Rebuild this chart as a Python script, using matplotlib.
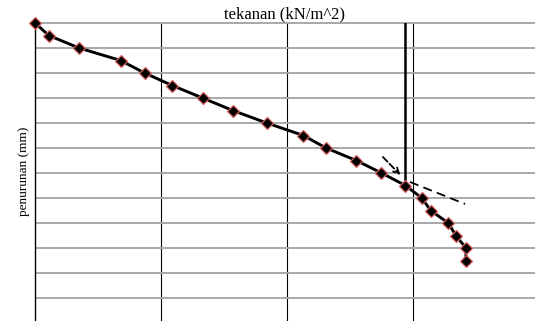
import matplotlib.pyplot as plt
import numpy as np

plt.rcParams['font.family'] = ['Liberation Serif', 'DejaVu Serif']

# tekanan (kN/m^2) and penurunan (mm)
tekanan = [0, 11, 35, 68, 87, 109, 133, 157, 184, 213, 231, 255, 275, 294,
           307, 314, 328, 334, 342, 342]
penurunan = [0, 0.5, 1.0, 1.5, 2.0, 2.5, 3.0, 3.5, 4.0, 4.5, 5.0, 5.5, 6.0,
             6.5, 7.0, 7.5, 8.0, 8.5, 9.0, 9.5]

# construction lines
garis_tegak_x = [293.5, 293.5]
garis_tegak_y = [0, 6.3]
tangen1_x = [274.6, 291.5]
tangen1_y = [5.28, 6.16]
tangen2_x = [297.6, 341.3]
tangen2_y = [6.36, 7.24]

fig = plt.figure(figsize=(5.35, 3.21), dpi=100)
ax = fig.add_axes([35 / 535, 0, 1 - 35 / 535, 1 - 23 / 321])

ax.set_xlim(0, 500 / 126 * 100)
ax.set_ylim(298 / 25, 0)
ax.set_xticks([100, 200, 300])
ax.set_yticks(np.arange(1, 12))
ax.tick_params(length=0, labelbottom=False, labelleft=False)
ax.grid(axis='y', color='#a8a8a8', lw=1.4)
ax.grid(axis='x', color='black', lw=0.8)
ax.set_axisbelow(True)
for s in ['right', 'bottom']:
    ax.spines[s].set_visible(False)
ax.spines['top'].set_color('#a8a8a8')
ax.spines['top'].set_linewidth(1.4)
ax.spines['left'].set_color('black')
ax.spines['left'].set_linewidth(1.0)

ax.plot(tekanan, penurunan, color='black', lw=2.1, marker='D', ms=6.5,
        mfc='black', mec='#d86060', mew=0.9, zorder=5, clip_on=False)
ax.plot(garis_tegak_x, garis_tegak_y, color='black', lw=1.8, zorder=4)
ax.annotate('', xy=(tangen1_x[1], tangen1_y[1]), xytext=(tangen1_x[0], tangen1_y[0]),
            arrowprops=dict(arrowstyle='->', color='black', lw=1.3, ls='--'), zorder=4)
ax.plot(tangen2_x, tangen2_y, color='black', lw=1.3, ls=(0, (5, 3)), zorder=4)

ax.set_title('tekanan (kN/m^2)', fontsize=12, pad=3)
fig.text(24 / 535, 1 - 171 / 321, 'penurunan (mm)', rotation=90, fontsize=9.5,
         ha='center', va='center')

fig.savefig('out.png', dpi=100)
